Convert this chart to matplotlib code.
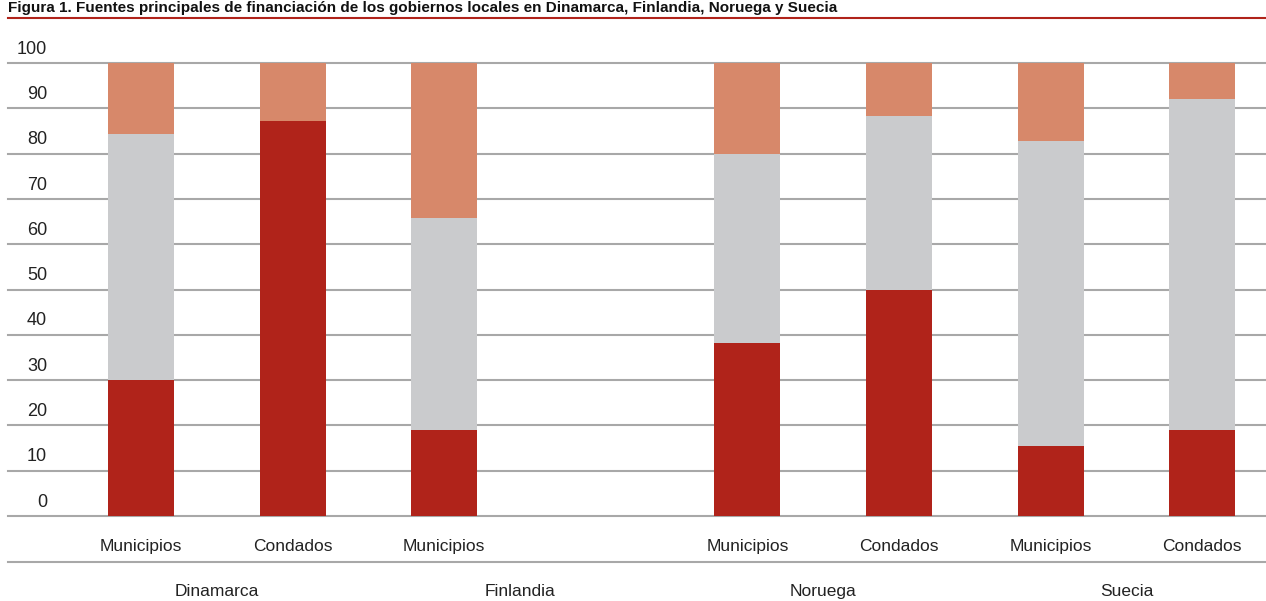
import matplotlib.pyplot as plt
from matplotlib.transforms import blended_transform_factory

# data (percent of local government funding)
countries = ['Dinamarca', 'Finlandia', 'Noruega', 'Suecia']
levels = ['Municipios', 'Condados', 'Municipios', '', 'Municipios', 'Condados', 'Municipios', 'Condados']
red_vals = [30.0, 87.2, 19.0, None, 38.2, 49.9, 15.5, 19.0]
grey_vals = [54.3, 0.0, 46.8, None, 41.8, 38.4, 67.3, 73.0]
orange_vals = [15.7, 12.8, 34.2, None, 20.0, 11.7, 17.2, 8.0]
yticks = [0, 10, 20, 30, 40, 50, 60, 70, 80, 90, 100]

title = ('Figura 1. Fuentes principales de financiación de los gobiernos locales '
         'en Dinamarca, Finlandia, Noruega y Suecia')

RED = '#b0231a'
GREY = '#cacbcd'
ORANGE = '#d7886a'
GRID = '#a8a8a8'
TXT = '#222222'

plt.rcParams['font.family'] = ['Liberation Sans', 'DejaVu Sans']

W, H = 1266, 601
fig = plt.figure(figsize=(W / 100, H / 100), dpi=100)
ax = fig.add_axes([8 / W, (H - 516) / H, (W - 8) / W, 453 / H])

# stacked bars, slot 3 is empty (Finlandia has no counties)
for i in range(len(levels)):
    if red_vals[i] is None:
        continue
    r, g, o = red_vals[i], grey_vals[i], orange_vals[i]
    ax.bar(i, r, width=0.435, color=RED, zorder=3)
    ax.bar(i, g, width=0.435, bottom=r, color=GREY, zorder=3)
    ax.bar(i, o, width=0.435, bottom=r + g, color=ORANGE, zorder=3)

ax.set_xlim(-0.877, 7.42)
ax.set_ylim(0, 100)
for v in yticks:
    ax.axhline(v, color=GRID, lw=1.5, zorder=1, clip_on=False)
for s in ax.spines.values():
    s.set_visible(False)
ax.set_xticks([])
ax.set_yticks([])

# y labels sit above their gridlines
tr = blended_transform_factory(fig.transFigure, ax.transData)
for v in yticks:
    ax.text(47 / W, v + 3.5, str(v), transform=tr, ha='right', va='center_baseline',
            fontsize=13, color=TXT, clip_on=False)

# category labels
bt = blended_transform_factory(ax.transData, fig.transFigure)
for i, lab in enumerate(levels):
    if lab:
        ax.text(i, (H - 545) / H, lab, transform=bt,
                ha='center', va='center_baseline', fontsize=12.5, color=TXT)

# separator line between rows of labels
fig.add_artist(plt.Line2D([8 / W, 1], [(H - 562) / H] * 2, color=GRID, lw=1.5))

# country labels
for k, c in enumerate(countries):
    ax.text(2 * k + 0.5, (H - 590) / H, c, transform=bt, ha='center',
            va='center_baseline', fontsize=12.5, color=TXT)

# title and red rule
fig.text(8 / W, (H - 12) / H, title, ha='left', va='baseline', fontsize=11,
         fontweight='bold', color='#111111')
fig.add_artist(plt.Line2D([8 / W, 1], [(H - 17.5) / H] * 2, color=RED, lw=1.5))

fig.savefig('out.png', dpi=100)
